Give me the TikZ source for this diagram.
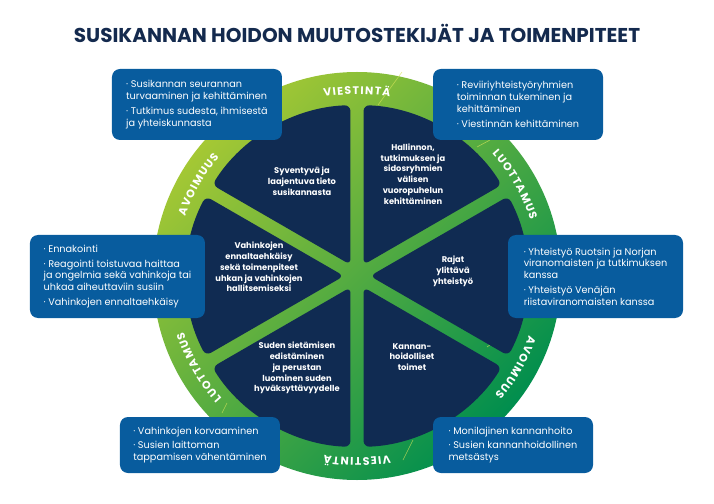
\documentclass[tikz,border=0pt]{standalone}
\usepackage{fontspec}
\setmainfont{Poppins}
\usetikzlibrary{decorations.text}
\definecolor{titlenavy}{RGB}{20,42,78}
\definecolor{sectornavy}{RGB}{16,43,82}
\definecolor{boxblue}{RGB}{8,92,158}
\definecolor{ringlight}{RGB}{165,200,52}
\definecolor{ringdark}{RGB}{0,142,78}
\definecolor{glint}{RGB}{215,228,90}
\newcommand{\ringfont}{\fontsize{11}{11}\selectfont\bfseries}
\tikzset{
	infobox/.style = {rectangle, rounded corners=8pt, fill=boxblue, text=white,
		align=left, inner sep=0pt,
		font=\fontsize{9.7}{11.8}\selectfont},% sininen laatikko
	hubtext/.style = {align=center, text=white, inner sep=0pt,
		font=\fontsize{8.3}{10.8}\selectfont\bfseries},% teksti sektorissa
	sector/.style = {fill=sectornavy, rounded corners=6pt},% tumma sektori
	ringlabel/.style = {decoration={text effects along path, text={#1},
		text align=center, text effects/.cd, text along path,
		characters={text=white, font=\ringfont, inner xsep=0.6pt},
		character widths={font=\ringfont, inner xsep=0.6pt}}, decorate}% kehan teksti
}

\begin{document}
\begin{tikzpicture}[x=1pt,y=1pt]
	\useasboundingbox (-357,-227) rectangle (357,276);
	\node[font=\fontsize{20}{20}\selectfont\bfseries, text=titlenavy] (title) at (0,243)
		{SUSIKANNAN HOIDON MUUTOSTEKIJÄT JA TOIMENPITEET};
	% kehä ja pinnat
	\shade[top color=ringlight, bottom color=ringdark, shading angle=45] (0,0) circle[radius=204];
	\draw[glint, opacity=0.7, line width=0.6pt] (21,171) -- (45,204);
	\draw[glint, opacity=0.7, line width=0.6pt] (120,129) -- (133,136);
	\draw[glint, opacity=0.7, line width=0.6pt] (130,-71) -- (140,-64);
	\draw[glint, opacity=0.7, line width=0.6pt] (56,-164) -- (46,-184);
	\draw[glint, opacity=0.7, line width=0.6pt] (-130,-127) -- (-135,-137);
	% sektorit
	\fill[sector] (60:13) -- (32.2:171) arc[start angle=32.2, end angle=87.8, radius=171] -- cycle;
	\fill[sector] (120:13) -- (92.2:171) arc[start angle=92.2, end angle=147.8, radius=171] -- cycle;
	\fill[sector] (180:13) -- (152.2:171) arc[start angle=152.2, end angle=207.8, radius=171] -- cycle;
	\fill[sector] (240:13) -- (212.2:171) arc[start angle=212.2, end angle=267.8, radius=171] -- cycle;
	\fill[sector] (300:13) -- (272.2:171) arc[start angle=272.2, end angle=327.8, radius=171] -- cycle;
	\fill[sector] (0:13) -- (332.2:171) arc[start angle=332.2, end angle=387.8, radius=171] -- cycle;
	% kehän tekstit
	\path[ringlabel={VIESTINTÄ}] (130:182) arc[start angle=130, end angle=50, radius=182];
	\path[ringlabel={LUOTTAMUS}] (70:182) arc[start angle=70, end angle=-10, radius=182];
	\path[ringlabel={AVOIMUUS}] (10:182) arc[start angle=10, end angle=-70, radius=182];
	\path[ringlabel={VIESTINTÄ}] (-50:182) arc[start angle=-50, end angle=-130, radius=182];
	\path[ringlabel={LUOTTAMUS}] (-110:182) arc[start angle=-110, end angle=-190, radius=182];
	\path[ringlabel={AVOIMUUS}] (-170:182) arc[start angle=-170, end angle=-250, radius=182];
	% sektoreiden tekstit
	\node[hubtext] (tieto) at (-55,95) {Syventyvä ja\\laajentuva tieto\\susikannasta};
	\node[hubtext] (vuoropuhelu) at (56,102) {Hallinnon,\\tutkimuksen ja\\sidosryhmien\\välisen\\vuoropuhelun\\kehittäminen};
	\node[hubtext] (rajat) at (96,4.5) {Rajat\\ylittävä\\yhteistyö};
	\node[hubtext] (kannanhoito) at (55,-81) {Kannan-\\hoidolliset\\toimet};
	\node[hubtext] (sietaminen) at (-60,-92) {Suden sietämisen\\edistäminen\\ja perustan\\luominen suden\\hyväksyttävyydelle};
	\node[hubtext] (vahingot) at (-98,9) {Vahinkojen\\ennaltaehkäisy\\sekä toimenpiteet\\uhkan ja vahinkojen\\hallitsemiseksi};
	% laatikot
	\node[infobox, minimum width=170pt, minimum height=71pt] (seuranta) at (-160,171.5)
		{· Susikannan seurannan\\turvaaminen ja kehittäminen\\[3pt]· Tutkimus sudesta, ihmisestä\\ja yhteiskunnasta};
	\node[infobox, minimum width=170pt, minimum height=71pt] (reviiri) at (161,171.5)
		{· Reviiriyhteistyöryhmien\\toiminnan tukeminen ja\\kehittäminen\\[3pt]· Viestinnän kehittäminen\hspace{14pt}};
	\node[infobox, minimum width=175pt, minimum height=83pt] (ennakointi) at (-239.5,-0.5)
		{· Ennakointi\\[3pt]· Reagointi toistuvaa haittaa\\ja ongelmia sekä vahinkoja tai\\uhkaa aiheuttaviin susiin\\[3pt]· Vahinkojen ennaltaehkäisy};
	\node[infobox, minimum width=175pt, minimum height=83pt] (yhteistyo) at (238.5,-0.5)
		{· Yhteistyö Ruotsin ja Norjan\\viranomaisten ja tutkimuksen\\kanssa\\[3pt]· Yhteistyö Venäjän\\riistaviranomaisten kanssa};
	\node[infobox, minimum width=160pt, minimum height=56pt] (korvaus) at (-157,-169)
		{· Vahinkojen korvaaminen\\[3pt]· Susien laittoman\\tappamisen vähentäminen};
	\node[infobox, minimum width=160pt, minimum height=56pt] (metsastys) at (156,-169)
		{· Monilajinen kannanhoito\\[3pt]· Susien kannanhoidollinen\\metsästys};
\end{tikzpicture}
\end{document}
